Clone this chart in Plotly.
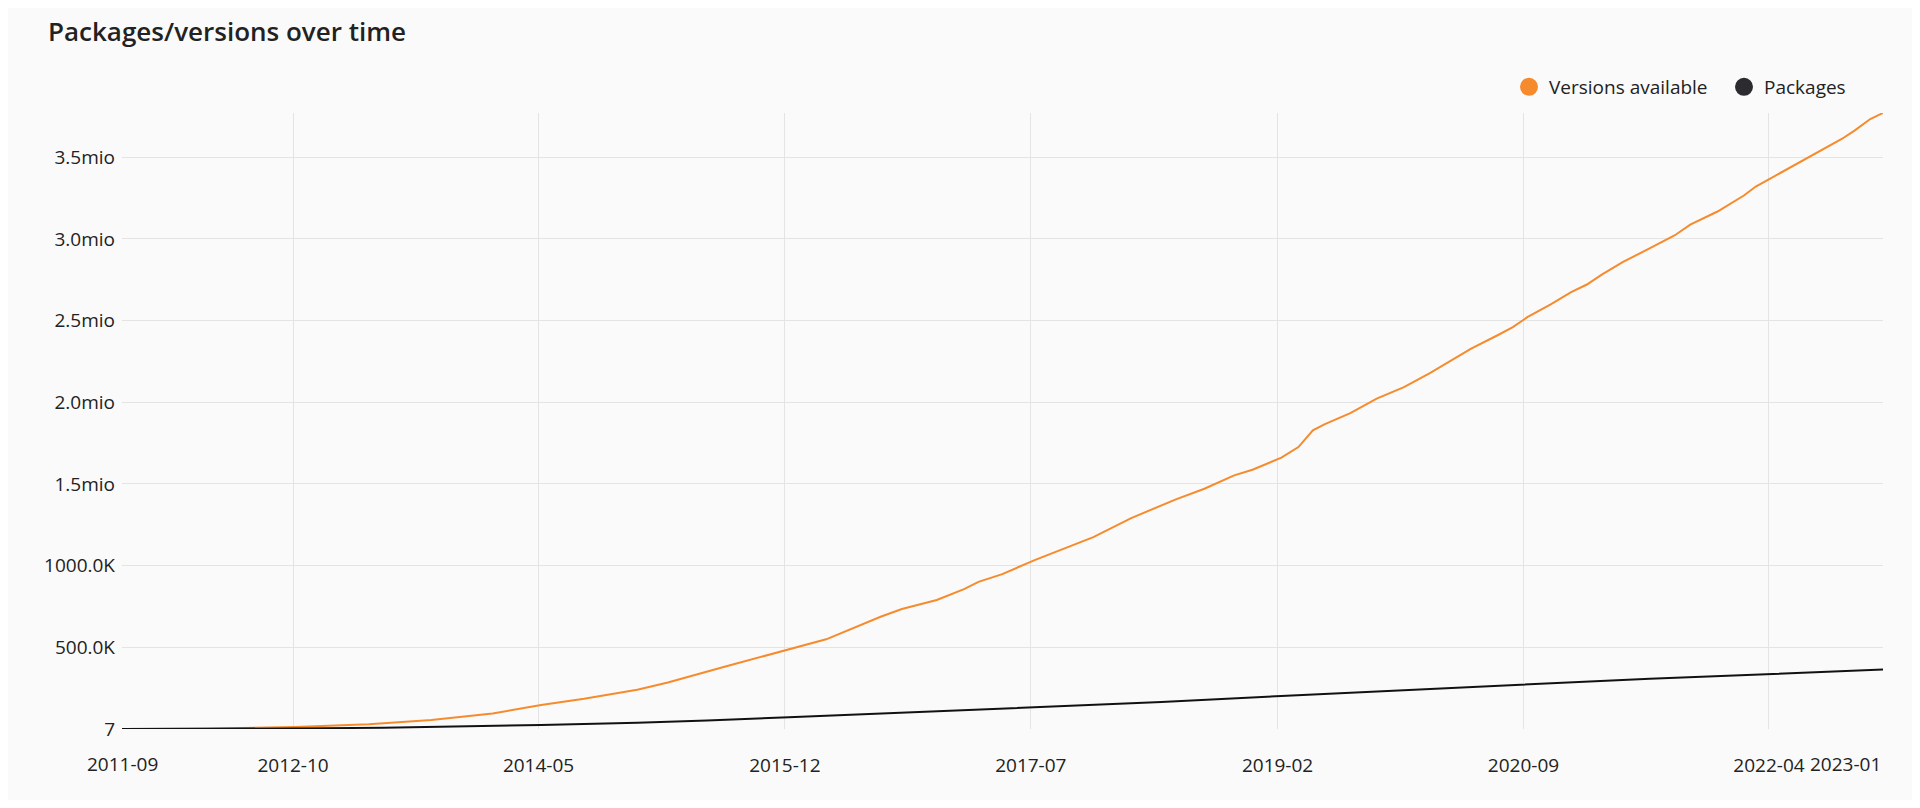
import plotly.graph_objects as go

# values
version_dates = [
    '2011-08-26', '2012-03-15', '2012-10-06', '2013-03-28', '2013-08-22', '2014-01-13',
    '2014-05-07', '2014-08-16', '2014-12-19', '2015-03-01', '2015-07-10', '2015-12-10',
    '2016-03-07', '2016-07-13', '2016-09-01', '2016-11-22', '2017-01-25', '2017-02-28',
    '2017-04-25', '2017-07-10', '2017-09-13', '2017-11-25', '2018-02-22', '2018-06-07',
    '2018-08-13', '2018-10-22', '2018-12-04', '2019-02-10', '2019-03-22', '2019-04-25',
    '2019-05-22', '2019-07-22', '2019-09-22', '2019-11-25', '2020-01-25', '2020-03-01',
    '2020-05-01', '2020-07-01', '2020-08-07', '2020-09-10', '2020-11-04', '2020-12-22',
    '2021-01-28', '2021-03-04', '2021-04-22', '2021-06-22', '2021-08-22', '2021-09-28',
    '2021-12-01', '2022-02-01', '2022-03-01', '2022-04-07', '2022-06-25', '2022-09-19',
    '2022-10-19', '2022-11-25', '2022-12-25',
]
versions = [
    10, 2000, 12000, 29000, 55000, 95000,
    147000, 185000, 240000, 285000, 380000, 485000,
    549000, 687000, 735000, 790000, 856000, 901000,
    948000, 1034000, 1101000, 1175000, 1291000, 1406000,
    1471000, 1553000, 1587000, 1661000, 1726000, 1828000,
    1865000, 1934000, 2022000, 2093000, 2179000, 2236000,
    2328000, 2409000, 2460000, 2521000, 2599000, 2674000,
    2721000, 2782000, 2858000, 2939000, 3021000, 3088000,
    3168000, 3266000, 3321000, 3374000, 3490000, 3612000,
    3663000, 3734000, 3771000,
]

package_dates = [
    '2011-08-26', '2012-03-01', '2012-10-07', '2013-05-01', '2013-11-01', '2014-05-07',
    '2014-12-19', '2015-06-01', '2015-12-10', '2016-09-15', '2017-07-10', '2018-05-04',
    '2019-02-10', '2019-12-01', '2020-09-07', '2021-06-25', '2022-04-10', '2022-12-25',
]
packages = [
    7, 1000, 3000, 8000, 15000, 25000,
    39000, 52000, 72000, 101000, 133000, 165000,
    202000, 239000, 273000, 308000, 337000, 365000,
]

x_tickvals = ['2012-10-01', '2014-05-01', '2015-12-01', '2017-07-01',
              '2019-02-01', '2020-09-01', '2022-04-01']
x_ticktext = ['2012-10', '2014-05', '2015-12', '2017-07', '2019-02', '2020-09', '2022-04']
x_edge_labels = ['2011-09', '2023-01']

y_tickvals = [7, 500000, 1000000, 1500000, 2000000, 2500000, 3000000, 3500000]
y_ticktext = ['7', '500.0K', '1000.0K', '1.5mio', '2.0mio', '2.5mio', '3.0mio', '3.5mio']

ORANGE = '#f68b2e'
DARK = '#111111'
FONT = 'Open Sans'

# page body adds 8px around the figure
W, H = 1904, 792

fig = go.Figure()

fig.add_trace(go.Scatter(x=version_dates, y=versions, mode='lines',
                         line=dict(color=ORANGE, width=2), showlegend=False,
                         name='Versions available'))
fig.add_trace(go.Scatter(x=package_dates, y=packages, mode='lines',
                         line=dict(color=DARK, width=2), showlegend=False,
                         name='Packages'))

# legend entries drawn as round dots
fig.add_trace(go.Scatter(x=[None], y=[None], mode='markers', name='Versions available',
                         marker=dict(color=ORANGE, size=16, line=dict(color=ORANGE, width=2))))
fig.add_trace(go.Scatter(x=[None], y=[None], mode='markers', name='Packages',
                         marker=dict(color='#2b2b30', size=16, line=dict(color='#2b2b30', width=2))))

# first and last date labels sit at the plot edges
fig.add_annotation(x=0, y=0, xref='paper', yref='paper', text=x_edge_labels[0],
                   showarrow=False, xanchor='center', yanchor='middle', yshift=-35,
                   font=dict(family=FONT, size=19, color='#222222'))
fig.add_annotation(x=1, y=0, xref='paper', yref='paper', text=x_edge_labels[1],
                   showarrow=False, xanchor='right', yanchor='middle', yshift=-35,
                   font=dict(family=FONT, size=19, color='#222222'))

fig.update_layout(
    width=W,
    height=H,
    margin=dict(l=114, r=29, t=105, b=71, autoexpand=False),
    paper_bgcolor='#fafafa',
    plot_bgcolor='#fafafa',
    font=dict(family=FONT, size=19, color='#222222'),
    title=dict(text='Packages/versions over time', x=40 / W, xref='container', xanchor='left',
               y=1 - 24 / H, yref='container', yanchor='middle',
               font=dict(family=FONT, size=26, weight=600, color='#222222')),
    legend=dict(orientation='h', x=1501 / W, xref='container', xanchor='left',
                y=1 - 79 / H, yref='container', yanchor='middle',
                entrywidth=170,
                font=dict(family=FONT, size=19, color='#222222'),
                bgcolor='rgba(0,0,0,0)'),
    xaxis=dict(type='date', range=['2011-08-26', '2022-12-25'],
               tickmode='array', tickvals=x_tickvals, ticktext=x_ticktext,
               showgrid=True, gridcolor='#e4e4e4', gridwidth=1,
               showline=False, zeroline=False, ticks='', ticklabelstandoff=23),
    yaxis=dict(range=[7, 3771000], tickmode='array', tickvals=y_tickvals, ticktext=y_ticktext,
               showgrid=True, gridcolor='#e4e4e4', gridwidth=1,
               showline=False, zeroline=False, ticks='', ticklabelstandoff=6),
)

fig.write_html('out.html')
